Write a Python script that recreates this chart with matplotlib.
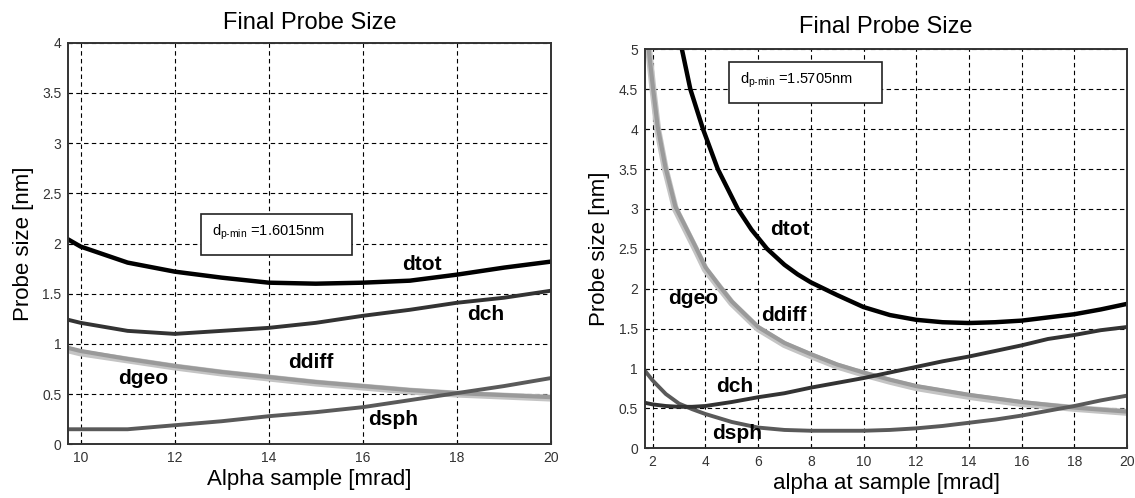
import matplotlib
matplotlib.use('Agg')
import matplotlib.pyplot as plt
from matplotlib.patches import Rectangle

plt.rcParams['font.family'] = ['Liberation Sans', 'DejaVu Sans']
plt.rcParams['mathtext.fontset'] = 'custom'
plt.rcParams['mathtext.rm'] = 'Liberation Sans'
plt.rcParams['mathtext.it'] = 'Liberation Sans'

# ---- left panel data (alpha in mrad, sizes in nm) ----
xa = [9.74, 10, 11, 12, 13, 14, 15, 16, 17, 18, 19, 20]
a_tot = [2.04, 1.97, 1.81, 1.72, 1.66, 1.61, 1.60, 1.61, 1.63, 1.69, 1.76, 1.82]
a_ch = [1.24, 1.21, 1.13, 1.10, 1.13, 1.16, 1.21, 1.28, 1.34, 1.41, 1.46, 1.53]
a_diff = [0.96, 0.93, 0.85, 0.78, 0.72, 0.67, 0.62, 0.58, 0.54, 0.51, 0.49, 0.47]
a_geo = [0.94, 0.91, 0.84, 0.77, 0.71, 0.66, 0.61, 0.57, 0.53, 0.50, 0.48, 0.46]
a_sph = [0.15, 0.15, 0.15, 0.19, 0.23, 0.28, 0.32, 0.37, 0.44, 0.51, 0.58, 0.66]

# ---- right panel data ----
xb_tot = [3.11, 3.43, 3.91, 4.47, 5.23, 5.75, 6.34, 7, 7.5, 8, 9, 10, 11, 12, 13, 14,
          15, 16, 17, 18, 19, 20]
b_tot = [5.0, 4.5, 4.0, 3.5, 3.0, 2.74, 2.5, 2.3, 2.18, 2.08, 1.92, 1.77, 1.67, 1.61,
         1.58, 1.57, 1.58, 1.60, 1.64, 1.68, 1.74, 1.81]
xb_geo = [1.85, 2.01, 2.19, 2.48, 2.86, 3.62, 4, 4.57, 5, 6, 7, 8, 9, 10, 11, 12, 14,
          16, 18, 20]
b_geo = [5.0, 4.5, 4.0, 3.5, 3.0, 2.5, 2.24, 2.0, 1.82, 1.5, 1.3, 1.16, 1.03, 0.93,
         0.84, 0.76, 0.65, 0.56, 0.50, 0.45]
b_diff = [5.0, 4.52, 4.03, 3.53, 3.03, 2.53, 2.27, 2.02, 1.84, 1.52, 1.32, 1.18, 1.05,
          0.95, 0.86, 0.78, 0.67, 0.58, 0.51, 0.46]
xb = [1.71, 2, 2.5, 3, 3.5, 4, 5, 6, 7, 8, 9, 10, 11, 12, 13, 14, 15, 16, 17, 18, 19, 20]
b_ch = [0.57, 0.55, 0.53, 0.52, 0.52, 0.53, 0.58, 0.64, 0.69, 0.76, 0.82, 0.88, 0.95,
        1.02, 1.09, 1.15, 1.22, 1.29, 1.37, 1.42, 1.48, 1.52]
b_sph = [0.97, 0.85, 0.68, 0.56, 0.49, 0.43, 0.33, 0.26, 0.23, 0.22, 0.22, 0.22, 0.23,
         0.25, 0.28, 0.32, 0.36, 0.41, 0.47, 0.53, 0.60, 0.66]

fig = plt.figure(figsize=(11.35, 4.98), dpi=100)
ax1 = fig.add_axes([0.0602, 0.1078, 0.4253, 0.8064])
ax2 = fig.add_axes([0.5683, 0.0998, 0.4247, 0.8012])


def style(ax, xlim, ylim, xticks, yticks, xlabel, tpad):
    ax.set_xlim(*xlim)
    ax.set_ylim(*ylim)
    ax.set_xticks(xticks)
    ax.set_yticks(yticks)
    ax.set_xticklabels([f'{t:g}' for t in xticks])
    ax.set_yticklabels([f'{t:g}' for t in yticks])
    ax.tick_params(direction='in', length=3, labelsize=10, labelcolor='#333333', pad=5)
    ax.grid(True, color='black', linestyle=(0, (4, 3)), linewidth=0.8)
    for s in ax.spines.values():
        s.set_linewidth(1.4)
        s.set_color('#333333')
    ax.set_title('Final Probe Size', fontsize=17, pad=tpad)
    ax.set_xlabel(xlabel, fontsize=16, labelpad=3)
    ax.set_ylabel('Probe size [nm]', fontsize=16, labelpad=6)


lbl = dict(fontsize=15, fontweight='bold', ha='center', va='center')

# left panel
ax1.plot(xa, a_geo, color='#c4c4c4', lw=5)
ax1.plot(xa, a_diff, color='#9a9a9a', lw=3)
ax1.plot(xa, a_sph, color='#5a5a5a', lw=2.8)
ax1.plot(xa, a_ch, color='#333333', lw=2.8)
ax1.plot(xa, a_tot, color='black', lw=3.2)
style(ax1, (9.74, 20), (0, 4), list(range(10, 21, 2)), [0, 0.5, 1, 1.5, 2, 2.5, 3, 3.5, 4],
      'Alpha sample [mrad]', 10)
ax1.text(17.26, 1.79, 'dtot', **lbl)
ax1.text(18.61, 1.29, 'dch', **lbl)
ax1.text(14.90, 0.81, 'ddiff', **lbl)
ax1.text(11.34, 0.66, 'dgeo', **lbl)
ax1.text(16.64, 0.25, 'dsph', **lbl)
ax1.add_patch(Rectangle((0.275, 0.471), 0.313, 0.102, transform=ax1.transAxes,
                        facecolor='white', edgecolor='#222222', lw=1.2, zorder=5))
ax1.text(0.298, 0.527, r'$\mathregular{d_{p\text{-}min}}$ =1.6015nm', transform=ax1.transAxes,
         fontsize=10.5, va='center', zorder=6)

# right panel
ax2.plot(xb_geo, b_geo, color='#c4c4c4', lw=5)
ax2.plot(xb_geo, b_diff, color='#9a9a9a', lw=3)
ax2.plot(xb, b_sph, color='#5a5a5a', lw=2.8)
ax2.plot(xb, b_ch, color='#333333', lw=2.8)
ax2.plot(xb_tot, b_tot, color='black', lw=3.2)
style(ax2, (1.71, 20), (0, 5), list(range(2, 21, 2)),
      [0, 0.5, 1, 1.5, 2, 2.5, 3, 3.5, 4, 4.5, 5], 'alpha at sample [mrad]', 12)
ax2.text(7.19, 2.74, 'dtot', **lbl)
ax2.text(3.54, 1.88, 'dgeo', **lbl)
ax2.text(6.98, 1.67, 'ddiff', **lbl)
ax2.text(5.12, 0.77, 'dch', **lbl)
ax2.text(5.19, 0.19, 'dsph', **lbl)
ax2.add_patch(Rectangle((0.174, 0.866), 0.318, 0.101, transform=ax2.transAxes,
                        facecolor='white', edgecolor='#222222', lw=1.2, zorder=5))
ax2.text(0.197, 0.921, r'$\mathregular{d_{p\text{-}min}}$ =1.5705nm', transform=ax2.transAxes,
         fontsize=10.5, va='center', zorder=6)

fig.savefig('out.png', dpi=100)
